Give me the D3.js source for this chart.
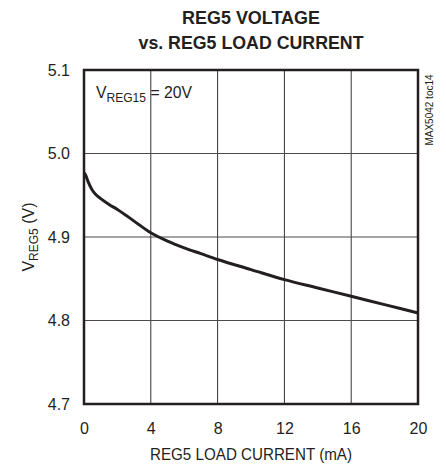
<!DOCTYPE html>
<html>
<head>
<meta charset="utf-8">
<script src="https://cdn.jsdelivr.net/npm/d3@7"></script>
<style>
  body { margin: 0; background: #fff; }
  text { font-family: "Liberation Sans", Arial, sans-serif; fill: #231f20; }
</style>
</head>
<body>
<svg id="chart" width="446" height="466"></svg>
<script>
// load current (mA) and REG5 voltage (V)
const current = [0, 0.1, 0.25, 0.5, 0.75, 1, 1.5, 2, 3, 4, 5, 6, 7, 8, 10, 12, 14, 16, 18, 20];
const voltage = [4.977, 4.974, 4.966, 4.956, 4.950, 4.946, 4.939, 4.933, 4.919, 4.905, 4.895, 4.887, 4.880, 4.873, 4.861, 4.849, 4.839, 4.829, 4.819, 4.809];

const xTicks = [0, 4, 8, 12, 16, 20];
const yTicks = [4.7, 4.8, 4.9, 5.0, 5.1];

const svg = d3.select("#chart");
const plotL = 84, plotR = 418, plotT = 70, plotB = 404;

const x = d3.scaleLinear().domain([0, 20]).range([plotL, plotR]);
const y = d3.scaleLinear().domain([4.7, 5.1]).range([plotB, plotT]);

// title (narrow, tall letters like the original)
svg.append("text")
  .attr("x", 251).attr("y", 24)
  .attr("text-anchor", "middle")
  .attr("textLength", 138).attr("lengthAdjust", "spacingAndGlyphs")
  .style("font-weight", "bold").style("font-size", "19px")
  .text("REG5 VOLTAGE");
svg.append("text")
  .attr("x", 251).attr("y", 49)
  .attr("text-anchor", "middle")
  .attr("textLength", 225).attr("lengthAdjust", "spacingAndGlyphs")
  .style("font-weight", "bold").style("font-size", "19px")
  .text("vs. REG5 LOAD CURRENT");

// grid
svg.append("g")
  .selectAll("line")
  .data(xTicks.slice(1, -1))
  .join("line")
  .attr("x1", d => x(d)).attr("x2", d => x(d))
  .attr("y1", plotT).attr("y2", plotB)
  .attr("stroke", "#333").attr("stroke-width", 1);

svg.append("g")
  .selectAll("line")
  .data(yTicks.slice(1, -1))
  .join("line")
  .attr("x1", plotL).attr("x2", plotR)
  .attr("y1", d => y(d)).attr("y2", d => y(d))
  .attr("stroke", "#4a4a4a").attr("stroke-width", 1);

// axes (labels only)
const xAxis = svg.append("g")
  .attr("transform", `translate(0,${plotB})`)
  .call(d3.axisBottom(x).tickValues(xTicks).tickSize(0).tickPadding(19).tickFormat(d3.format("d")));
const yAxis = svg.append("g")
  .attr("transform", `translate(${plotL},0)`)
  .call(d3.axisLeft(y).tickValues(yTicks).tickSize(0).tickPadding(14).tickFormat(d3.format(".1f")));
[xAxis, yAxis].forEach(g => {
  g.select(".domain").remove();
  g.selectAll("text").style("font-size", "16px").attr("fill", "#231f20")
    .style("font-family", "'Liberation Sans', Arial, sans-serif");
});

// curve
svg.append("path")
  .datum(current.map((c, i) => [c, voltage[i]]))
  .attr("fill", "none")
  .attr("stroke", "#231f20")
  .attr("stroke-width", 3)
  .attr("d", d3.line().x(d => x(d[0])).y(d => y(d[1])).curve(d3.curveMonotoneX));

// frame
svg.append("rect")
  .attr("x", plotL).attr("y", plotT)
  .attr("width", plotR - plotL).attr("height", plotB - plotT)
  .attr("fill", "none").attr("stroke", "#231f20").attr("stroke-width", 2.5);

// annotation
const ann = svg.append("text").attr("x", 96).attr("y", 98)
  .attr("textLength", 96).attr("lengthAdjust", "spacingAndGlyphs")
  .style("font-size", "17px");
ann.append("tspan").text("V");
ann.append("tspan").attr("dy", 4).style("font-size", "13px").text("REG15");
ann.append("tspan").attr("dy", -4).text(" = 20V");

// axis titles
svg.append("text")
  .attr("x", 251).attr("y", 460)
  .attr("text-anchor", "middle")
  .attr("textLength", 202).attr("lengthAdjust", "spacingAndGlyphs")
  .style("font-size", "16px")
  .text("REG5 LOAD CURRENT (mA)");

const yl = svg.append("text")
  .attr("transform", `translate(34,${(plotT + plotB) / 2}) rotate(-90)`)
  .attr("text-anchor", "middle").style("font-size", "16px");
yl.append("tspan").text("V");
yl.append("tspan").attr("dy", 4).style("font-size", "12px").text("REG5");
yl.append("tspan").attr("dy", -4).text(" (V)");

svg.append("text")
  .attr("transform", `translate(433,${plotT + 40}) rotate(-90)`)
  .attr("text-anchor", "middle").style("font-size", "10px")
  .text("MAX5042 toc14");
</script>
</body>
</html>
